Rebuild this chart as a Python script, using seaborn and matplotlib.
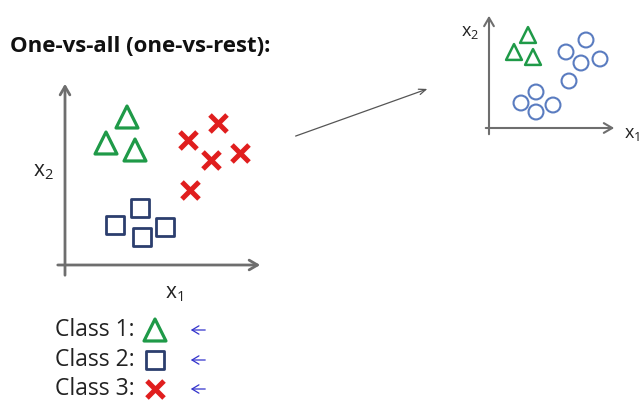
import matplotlib
matplotlib.use("Agg")
import matplotlib.pyplot as plt
import seaborn as sns
import pandas as pd

# class 1 (triangles), class 2 (squares), class 3 (crosses) in the big plot
tri_x = [3.1, 2.05, 3.5]
tri_y = [7.4, 6.1, 5.75]
sq_x = [3.75, 2.5, 3.85, 5.0]
sq_y = [2.85, 2.0, 1.4, 1.9]
cross_x = [7.65, 6.15, 7.3, 8.75, 6.25]
cross_y = [7.1, 6.25, 5.25, 5.6, 3.75]

# small plot: class 1 vs rest
small_tri_x = [3.9, 2.5, 4.4]
small_tri_y = [9.3, 7.6, 7.1]
rest_x = [9.7, 7.7, 11.1, 9.2, 8.0, 4.7, 3.2, 6.4, 4.7]
rest_y = [8.8, 7.6, 6.9, 6.5, 4.7, 3.6, 2.5, 2.3, 1.6]

class_labels = ["Class 1:", "Class 2:", "Class 3:"]
title = "One-vs-all (one-vs-rest):"

GREEN = "#1f9a48"
NAVY = "#2c3e6e"
RED = "#e01e1e"
BLUE = "#5a7cc0"
AXGRAY = "#6e6e6e"

sns.set_style("white")
plt.rcParams["font.family"] = ["Open Sans", "DejaVu Sans"]
plt.rcParams["mathtext.default"] = "regular"

W, H = 642, 408
fig = plt.figure(figsize=(W / 100, H / 100), dpi=100)


def px_axes(left, top, right, bottom):
    return fig.add_axes([left / W, 1 - bottom / H, (right - left) / W, (bottom - top) / H])


def draw_axes_arrows(ax, x0, x1, y0, y1, lw):
    ax.annotate("", xy=(x1, 0), xytext=(x0, 0),
                arrowprops=dict(arrowstyle="->,head_length=0.6,head_width=0.35", color=AXGRAY, lw=lw))
    ax.annotate("", xy=(0, y1), xytext=(0, y0),
                arrowprops=dict(arrowstyle="->,head_length=0.6,head_width=0.35", color=AXGRAY, lw=lw))
    ax.set_axis_off()


# big plot
ax = px_axes(55, 80, 265, 280)
ax.set_xlim(-0.5, 10)
ax.set_ylim(-0.75, 9.25)
draw_axes_arrows(ax, -0.5, 9.9, -0.65, 9.2, 2.0)
sns.scatterplot(x=tri_x, y=tri_y, marker="^", s=250, facecolors="none",
                edgecolor=GREEN, linewidth=2.3, ax=ax)
sns.scatterplot(x=sq_x, y=sq_y, marker="s", s=150, facecolors="none",
                edgecolor=NAVY, linewidth=2.0, ax=ax)
sns.scatterplot(x=cross_x, y=cross_y, marker="x", s=150, color=RED,
                linewidth=3.6, ax=ax)
ax.set_xlim(-0.5, 10)
ax.set_ylim(-0.75, 9.25)

# small plot
ax2 = px_axes(480, 10, 620, 140)
ax2.set_xlim(-0.9, 13.1)
ax2.set_ylim(-1.2, 11.8)
draw_axes_arrows(ax2, -0.6, 12.8, -0.9, 11.5, 1.5)
sns.scatterplot(x=small_tri_x, y=small_tri_y, marker="^", s=130, facecolors="none",
                edgecolor=GREEN, linewidth=1.8, ax=ax2)
sns.scatterplot(x=rest_x, y=rest_y, marker="o", s=115, facecolors="none",
                edgecolor=BLUE, linewidth=1.5, ax=ax2)
ax2.set_xlim(-0.9, 13.1)
ax2.set_ylim(-1.2, 11.8)

# overlay for text and decorations, in pixel units
ov = fig.add_axes([0, 0, 1, 1], zorder=-1)
ov.set_xlim(0, W)
ov.set_ylim(H, 0)
ov.set_axis_off()

ov.text(10, 46, title, fontsize=16, fontweight="bold", va="center", ha="left", color="#111111")
ov.text(43, 172, "x$_2$", fontsize=15, ha="center", va="center", color="#222222")
ov.text(174, 294, "x$_1$", fontsize=15, ha="center", va="center", color="#222222")
ov.text(470, 32, "x$_2$", fontsize=13, ha="center", va="center", color="#222222")
ov.text(632, 134, "x$_1$", fontsize=13, ha="center", va="center", color="#222222")

ov.annotate("", xy=(430, 88), xytext=(293, 137),
            arrowprops=dict(arrowstyle="->,head_length=0.5,head_width=0.2", color="#555555", lw=0.9))

rows_y = [330, 360, 389]
markers = [("^", GREEN, 250, 2.3), ("s", NAVY, 150, 2.0), ("x", RED, 150, 3.6)]
for lab, yy, (m, c, s, lw) in zip(class_labels, rows_y, markers):
    ov.text(55, yy, lab, fontsize=16.5, ha="left", va="center", color="#222222")
    if m == "x":
        ov.scatter([155], [yy], marker=m, s=s, color=c, linewidth=lw)
    else:
        ov.scatter([155], [yy], marker=m, s=s, facecolors="none", edgecolors=c, linewidth=lw)
    ov.annotate("", xy=(188, yy), xytext=(208, yy),
                arrowprops=dict(arrowstyle="->,head_length=0.5,head_width=0.3", color="#3333cc", lw=0.9))

fig.savefig("out.png", dpi=100, facecolor="white")
